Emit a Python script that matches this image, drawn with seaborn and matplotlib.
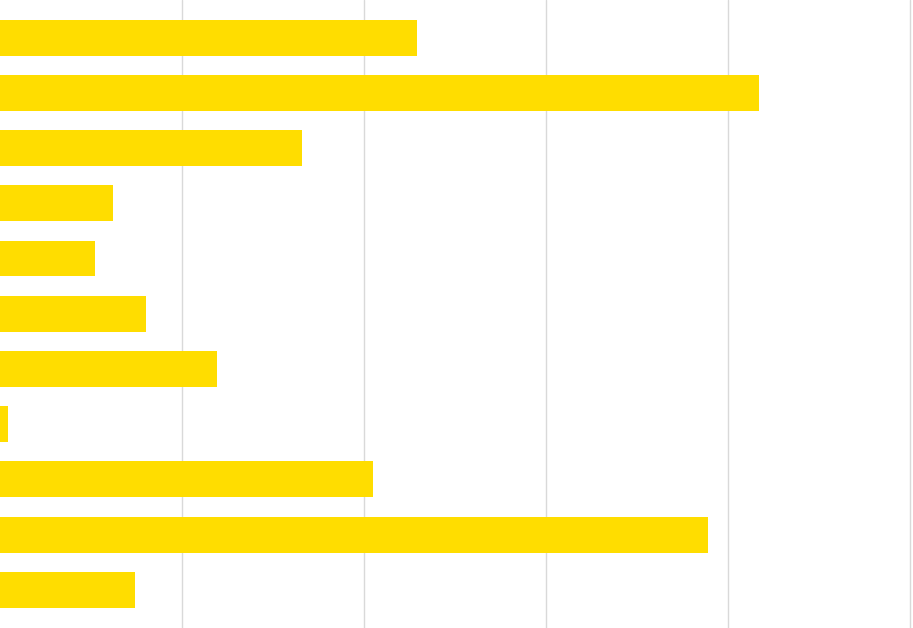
import matplotlib
matplotlib.use('Agg')
import matplotlib.pyplot as plt
import seaborn as sns
import pandas as pd

# valores (escala: uma linha de grade a cada 10)
categorias = ['A', 'B', 'C', 'D', 'E', 'F', 'G', 'H', 'I', 'J', 'K']
valores = [22.9, 41.7, 16.6, 6.2, 5.2, 8.0, 11.9, 0.45, 20.5, 38.9, 7.4]
ticks_x = [10, 20, 30, 40, 50]

df = pd.DataFrame({'cat': categorias, 'valor': valores})

sns.set_style('white')
fig = plt.figure(figsize=(9.13, 6.28), dpi=100)
ax = fig.add_axes([0, 0, 1, 1])

sns.barplot(data=df, x='valor', y='cat', orient='h', color='#FFDD00',
            saturation=1, width=0.65, linewidth=0, ax=ax)

ax.set_xlim(0, 50 * 913 / 910)
ax.set_ylim(10.69, -0.68)
ax.set_xticks(ticks_x)
ax.grid(axis='x', color='#d9d9d9', linewidth=1)
ax.set_axisbelow(True)
ax.tick_params(left=False, bottom=False, labelleft=False, labelbottom=False)
ax.set_xlabel('')
ax.set_ylabel('')
for s in ax.spines.values():
    s.set_visible(False)

fig.savefig('out.png', dpi=100)
